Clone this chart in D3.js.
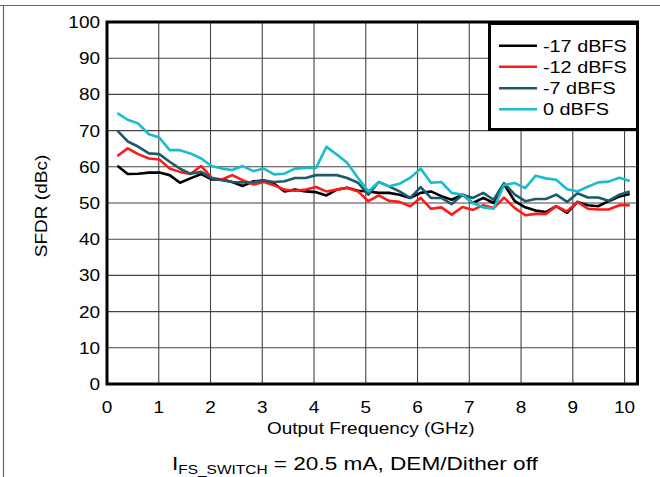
<!DOCTYPE html>
<html><head><meta charset="utf-8">
<script src="https://cdn.jsdelivr.net/npm/d3@7"></script>
<style>html,body{margin:0;padding:0;background:#fff;}svg{display:block;}</style>
</head><body>
<script>
const freq = [0.20,0.40,0.60,0.81,1.01,1.21,1.41,1.61,1.82,2.02,2.22,2.42,2.62,2.83,3.03,3.23,3.43,3.63,3.84,4.04,4.24,4.44,4.64,4.85,5.05,5.25,5.45,5.65,5.86,6.06,6.26,6.46,6.66,6.87,7.07,7.27,7.47,7.67,7.88,8.08,8.28,8.48,8.68,8.89,9.09,9.29,9.49,9.69,9.90,10.10];
const sfdrM17 = [60.3,58,58.1,58.4,58.4,57.7,55.6,56.8,58,56.5,56.5,55.8,54.7,56,56.2,55.3,53.2,53.7,53.2,53,52.1,53.7,54.2,53.4,53.2,52.8,52.8,52.3,51.4,52.8,53.2,51.9,50.9,52.3,50,51.4,50,55.2,50.5,48.8,47.9,47.5,49.1,47.3,50.3,49.4,49.1,50.5,51.8,52.5];
const sfdrM12 = [63,65.1,63.5,62.3,62,59.5,58.6,58,60.2,57,56.5,57.7,56.3,55.1,55.8,54.9,53.7,53.4,53.7,54.4,53.2,53.7,54.2,53.2,50.5,52.1,50.6,50.3,49.1,51.4,48.4,48.8,46.8,48.9,48.1,49.4,48.6,51.5,48.6,46.6,47,47,49.1,47.7,50.3,48.4,48.2,48.2,49.4,49.4];
const sfdrM7 = [70,67,65.6,63.7,63.5,61.4,59.5,58.1,58.6,56.8,56.3,55.8,55.7,55.8,56.2,55.8,56,56.9,56.9,57.7,57.7,57.7,56.9,55.6,52.3,55.8,54.6,53.2,51.4,54.4,51.4,51.4,49.7,52.3,51.4,52.8,50.9,55.5,52.3,50.5,51.1,51.1,52.3,50.3,52.7,51.5,51.5,50.6,52.3,53.2];
const sfdr0 = [74.8,73,72,69,68.1,64.6,64.6,63.7,62.3,60.2,59.5,59.1,60.2,58.8,59.5,57.9,58.1,59.5,59.7,59.7,65.5,63.4,61.1,56.9,53.2,55.8,54.6,55.3,57,59.5,55.6,55.8,52.8,52.3,50,48.8,48.4,55,55.5,54.1,57.5,56.8,56.4,53.8,53.2,54.5,55.7,55.9,57,56.1];
const seriesNames = ["-17 dBFS","-12 dBFS","-7 dBFS","0 dBFS"];
const seriesColors = ["#000000","#ff1a1a","#1d5a6a","#19bccc"];
const xTicks = [0,1,2,3,4,5,6,7,8,9,10];
const yTicks = [0,10,20,30,40,50,60,70,80,90,100];
const xTitle = "Output Frequency (GHz)";
const yTitle = "SFDR (dBc)";

const W = 660, H = 477;
const svg = d3.select("body").append("svg").attr("width", W).attr("height", H);
const FONT = "'Liberation Sans', Arial, sans-serif";
const FS = 16.5, SX = 1.15;

const L = 107, R = 637.5, T = 22, B = 384;
const x = d3.scaleLinear().domain([0, 10.25]).range([L, R]);
const y = d3.scaleLinear().domain([0, 100]).range([B, T]);

// outer frame lines
svg.append("line").attr("x1",0).attr("x2",W).attr("y1",5.5).attr("y2",5.5).attr("stroke","#666").attr("stroke-width",1.2);
svg.append("line").attr("x1",3.5).attr("x2",3.5).attr("y1",5).attr("y2",H).attr("stroke","#666").attr("stroke-width",1.2);

function txt(xp, yp, s, anchor, size, sx) {
  return svg.append("text")
    .attr("transform", `translate(${xp},${yp}) scale(${sx===undefined?SX:sx},1)`)
    .attr("text-anchor", anchor).attr("font-family", FONT)
    .attr("font-size", size || FS).attr("fill", "#000").text(s);
}

// grid
const g = svg.append("g");
g.selectAll("line.vx").data(xTicks.filter(d => d > 0)).join("line")
  .attr("x1", d => x(d)).attr("x2", d => x(d)).attr("y1", T).attr("y2", B)
  .attr("stroke", "#444").attr("stroke-width", 1.1);
g.selectAll("line.hy").data(yTicks.filter(d => d > 0 && d < 100)).join("line")
  .attr("x1", L).attr("x2", R).attr("y1", d => y(d)).attr("y2", d => y(d))
  .attr("stroke", "#444").attr("stroke-width", 1.1);

// series
const allSeries = [sfdrM17, sfdrM12, sfdrM7, sfdr0];
const line = d3.line().x((d, i) => x(freq[i])).y(d => y(d));
allSeries.forEach((s, k) => {
  svg.append("path").datum(s).attr("d", line).attr("fill", "none")
    .attr("stroke", seriesColors[k]).attr("stroke-width", 2.6)
    .attr("stroke-linejoin", "round");
});

// frame
svg.append("rect").attr("x", L).attr("y", T).attr("width", R - L).attr("height", B - T)
  .attr("fill", "none").attr("stroke", "#000").attr("stroke-width", 3);

// tick labels
xTicks.forEach(d => txt(x(d), 413, String(d), "middle"));
yTicks.forEach(d => txt(100, y(d) + 6, String(d), "end"));

// axis titles
txt((L + 624.6) / 2 + 5, 434, xTitle, "middle");
svg.append("text").attr("transform", `translate(47,${(T + B) / 2 + 3}) rotate(-90) scale(1.12,1)`)
  .attr("text-anchor", "middle").attr("font-family", FONT).attr("font-size", 17).text(yTitle);

// legend
const lg = svg.append("g");
lg.append("rect").attr("x", 489.5).attr("y", 23.5).attr("width", 148).attr("height", 106)
  .attr("fill", "#fff").attr("stroke", "#000").attr("stroke-width", 3);
const rows = [45.7, 66.7, 88.3, 109.3];
seriesNames.forEach((n, k) => {
  lg.append("line").attr("x1", 499).attr("x2", 537).attr("y1", rows[k]).attr("y2", rows[k])
    .attr("stroke", seriesColors[k]).attr("stroke-width", 2.6);
  txt(543, rows[k] + 6, n, "start", 16.8, 1.18);
});

// caption
const cap = svg.append("text")
  .attr("transform", `translate(172,470) scale(1.19,1)`)
  .attr("font-family", FONT).attr("font-size", 19).attr("text-anchor", "start");
cap.append("tspan").text("I");
cap.append("tspan").attr("font-size", 13).attr("dy", 3.5).text("FS_SWITCH");
cap.append("tspan").attr("dy", -3.5).text(" = 20.5 mA, DEM/Dither off");
</script>
</body></html>
